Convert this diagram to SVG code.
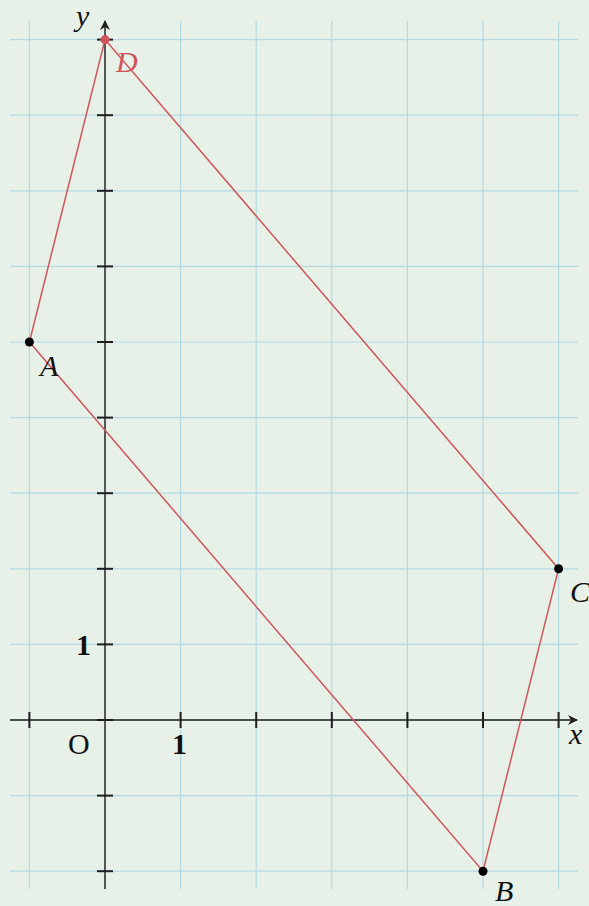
<svg xmlns="http://www.w3.org/2000/svg" width="589" height="906" viewBox="0 0 589 906">
<defs>
<style>
.grid line{stroke:#b3d9e3;stroke-width:1.2}
.ax{stroke:#1e1e1e;stroke-width:1.4;fill:none}
.tick{stroke:#1e1e1e;stroke-width:2}
.poly{stroke:#cf555a;stroke-width:1.5;fill:none}
.lbl{font-family:"Liberation Serif","DejaVu Serif",serif;font-size:30px;fill:#111}
.it{font-style:italic}
.bd{font-weight:bold}
</style>
<marker id="arr" viewBox="0 0 10 10" refX="9" refY="5" markerWidth="10" markerHeight="10" markerUnits="userSpaceOnUse" orient="auto">
<path d="M0,0 L10,5 L0,10 L3,5 Z" fill="#1e1e1e"/>
</marker>
</defs>
<rect width="589" height="906" fill="#e8f1e8"/>
<g class="grid">
<line x1="29.4" y1="21" x2="29.4" y2="889"/>
<line x1="105" y1="21" x2="105" y2="889"/>
<line x1="180.6" y1="21" x2="180.6" y2="889"/>
<line x1="256.2" y1="21" x2="256.2" y2="889"/>
<line x1="331.8" y1="21" x2="331.8" y2="889"/>
<line x1="407.4" y1="21" x2="407.4" y2="889"/>
<line x1="483" y1="21" x2="483" y2="889"/>
<line x1="558.6" y1="21" x2="558.6" y2="889"/>
<line x1="10" y1="39.6" x2="578" y2="39.6"/>
<line x1="10" y1="115.2" x2="578" y2="115.2"/>
<line x1="10" y1="190.8" x2="578" y2="190.8"/>
<line x1="10" y1="266.4" x2="578" y2="266.4"/>
<line x1="10" y1="342" x2="578" y2="342"/>
<line x1="10" y1="417.6" x2="578" y2="417.6"/>
<line x1="10" y1="493.2" x2="578" y2="493.2"/>
<line x1="10" y1="568.8" x2="578" y2="568.8"/>
<line x1="10" y1="644.4" x2="578" y2="644.4"/>
<line x1="10" y1="720" x2="578" y2="720"/>
<line x1="10" y1="795.6" x2="578" y2="795.6"/>
<line x1="10" y1="871.2" x2="578" y2="871.2"/>
</g>
<g id="axes">
<line class="ax" x1="10" y1="720" x2="577" y2="720" marker-end="url(#arr)"/>
<line class="ax" x1="105" y1="889" x2="105" y2="21" marker-end="url(#arr)"/>
<g class="tick">
<line x1="29.4" y1="712" x2="29.4" y2="728"/>
<line x1="180.6" y1="712" x2="180.6" y2="728"/>
<line x1="256.2" y1="712" x2="256.2" y2="728"/>
<line x1="331.8" y1="712" x2="331.8" y2="728"/>
<line x1="407.4" y1="712" x2="407.4" y2="728"/>
<line x1="483" y1="712" x2="483" y2="728"/>
<line x1="558.6" y1="712" x2="558.6" y2="728"/>
<line x1="97" y1="720" x2="113" y2="720"/>
<line x1="97" y1="39.6" x2="113" y2="39.6"/>
<line x1="97" y1="115.2" x2="113" y2="115.2"/>
<line x1="97" y1="190.8" x2="113" y2="190.8"/>
<line x1="97" y1="266.4" x2="113" y2="266.4"/>
<line x1="97" y1="342" x2="113" y2="342"/>
<line x1="97" y1="417.6" x2="113" y2="417.6"/>
<line x1="97" y1="493.2" x2="113" y2="493.2"/>
<line x1="97" y1="568.8" x2="113" y2="568.8"/>
<line x1="97" y1="644.4" x2="113" y2="644.4"/>
<line x1="97" y1="795.6" x2="113" y2="795.6"/>
<line x1="97" y1="871.2" x2="113" y2="871.2"/>
</g>
<text class="lbl it" x="76" y="26">y</text>
<text class="lbl it" x="569" y="744">x</text>
<text class="lbl" x="68" y="754">O</text>
<text class="lbl bd" x="172" y="754">1</text>
<text class="lbl bd" x="76" y="655">1</text>
</g>
<g id="connectors">
<polygon class="poly" points="29.4,342 483,871.2 558.6,568.8 105,39.6"/>
</g>
<g id="A">
<circle cx="29.4" cy="342" r="4.5" fill="#000"/>
<text class="lbl it" x="40" y="376">A</text>
</g>
<g id="B">
<circle cx="483" cy="871.2" r="4.5" fill="#000"/>
<text class="lbl it" x="495" y="901">B</text>
</g>
<g id="C">
<circle cx="558.6" cy="568.8" r="4.5" fill="#000"/>
<text class="lbl it" x="570" y="602">C</text>
</g>
<g id="D">
<circle cx="105" cy="39.6" r="4.5" fill="#cf555a"/>
<text class="lbl it" x="116" y="72" style="fill:#cf555a">D</text>
</g>
</svg>
